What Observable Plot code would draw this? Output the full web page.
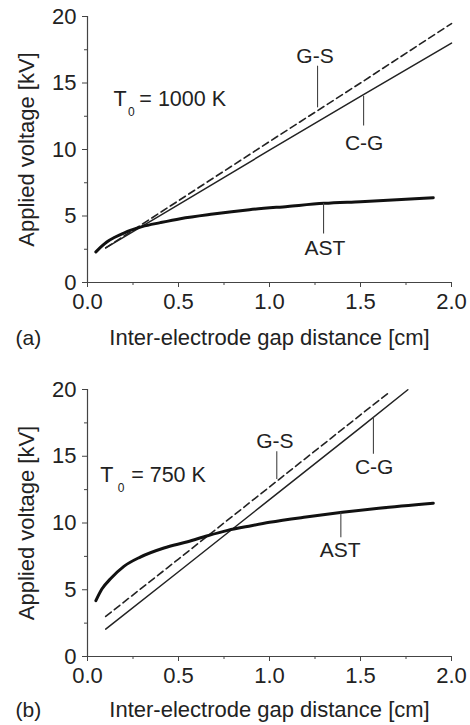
<!DOCTYPE html>
<html>
<head>
<meta charset="utf-8">
<script src="https://cdn.jsdelivr.net/npm/d3@7"></script>
<script src="https://cdn.jsdelivr.net/npm/@observablehq/plot@0.6"></script>
<style>
  body { margin: 0; background: #fff; }
  #chart svg { display: block; }
</style>
</head>
<body>
<div id="chart"></div>
<script>
// ---- axes ----
const xTicks = [0, 0.5, 1, 1.5, 2];
const xTickLabels = ["0.0", "0.5", "1.0", "1.5", "2.0"];
const xMinorTicks = [0.25, 0.75, 1.25, 1.75];
const yTicks = [0, 5, 10, 15, 20];
const yMinorTicks = [2.5, 7.5, 12.5, 17.5];
const xLabel = "Inter-electrode gap distance [cm]";
const yLabel = "Applied voltage [kV]";

// ---- panel (a): T0 = 1000 K ----
const aTag = "(a)";
const aTemp = ["T", "0", "= 1000 K"];
const aGapAST = [0.046, 0.08, 0.106, 0.15, 0.2, 0.235, 0.3, 0.4, 0.51, 0.69, 0.89, 1.1, 1.3, 1.5, 1.7, 1.9];
const aVoltAST = [2.3, 2.75, 3.05, 3.4, 3.72, 3.92, 4.2, 4.5, 4.8, 5.15, 5.47, 5.72, 5.95, 6.08, 6.22, 6.37];
const aGapGS = [0.1, 0.5, 1.0, 1.5, 2.0];
const aVoltGS = [2.6, 6.15, 10.6, 15.0, 19.47];
const aGapCG = [0.1, 0.5, 1.0, 1.5, 2.0];
const aVoltCG = [2.6, 5.85, 9.95, 14.0, 18.0];
const aLabelNames = ["G-S", "C-G", "AST"];
const aLabelX = [1.25, 1.52, 1.305];
const aLabelY = [16.54, 9.93, 2.05];
const aLeaderX = [1.264, 1.517, 1.297];
const aLeaderTop = [16.3, 14.05, 5.97];
const aLeaderBottom = [13.17, 11.8, 3.68];
const aTempX = [0.143, 0.222, 0.285];
const aTempY = [13.3, 12.5, 13.3];

// ---- panel (b): T0 = 750 K ----
const bTag = "(b)";
const bTemp = ["T", "0", "= 750 K"];
const bGapAST = [0.046, 0.079, 0.125, 0.2, 0.29, 0.42, 0.55, 0.66, 0.77, 0.9, 1.0, 1.2, 1.4, 1.6, 1.9];
const bVoltAST = [4.18, 5.05, 5.8, 6.75, 7.45, 8.13, 8.6, 9.05, 9.45, 9.8, 10.05, 10.45, 10.8, 11.1, 11.48];
const bGapGS = [0.1, 0.5, 1.0, 1.5, 1.65];
const bVoltGS = [3.0, 7.3, 12.7, 18.1, 19.7];
const bGapCG = [0.1, 0.5, 1.0, 1.5, 1.76];
const bVoltCG = [2.05, 6.35, 11.75, 17.15, 19.98];
const bLabelNames = ["G-S", "C-G", "AST"];
const bLabelX = [1.03, 1.575, 1.388];
const bLabelY = [15.63, 13.68, 7.43];
const bLeaderX = [1.04, 1.571, 1.392];
const bLeaderTop = [15.38, 17.93, 10.8];
const bLeaderBottom = [13.3, 15.18, 8.93];
const bTempX = [0.07, 0.166, 0.24];
const bTempY = [13.1, 12.3, 13.1];

const INK = "#222";
const FONT = "'Liberation Sans', Arial, Helvetica, sans-serif";

const pts = (xs, ys) => xs.map((x, i) => ({x, y: ys[i]}));

function panel(p) {
  const labels = p.names.map((name, i) => ({name, x: p.labelX[i], y: p.labelY[i]}));
  const leaders = p.leaderX.map((x, i) => ({x, y1: p.leaderTop[i], y2: p.leaderBottom[i]}));
  const temp = p.temp.map((t, i) => ({t, x: p.tempX[i], y: p.tempY[i]}));
  return Plot.plot({
    width: 470,
    height: p.height,
    marginLeft: 87,
    marginRight: 19,
    marginTop: p.marginTop,
    marginBottom: p.marginBottom,
    x: {domain: [0, 2]},
    y: {domain: [0, 20]},
    style: {fontFamily: FONT, fontSize: "21px", color: INK, background: "#fff", overflow: "visible"},
    marks: [
      Plot.axisY(yTicks, {tickSize: 5, tickPadding: 6, fontSize: 22, stroke: "#444",
        label: yLabel, labelAnchor: "center", labelArrow: "none", labelOffset: 69}),
      Plot.axisY(yMinorTicks, {tickSize: 3, stroke: "#444", tickFormat: () => "", label: null}),
      Plot.axisX(xTicks, {tickSize: 5, tickPadding: 6, fontSize: 22, stroke: "#444",
        tickFormat: d => xTickLabels[xTicks.indexOf(d)],
        label: xLabel, labelAnchor: "center", labelArrow: "none", labelOffset: p.labelOffset}),
      Plot.axisX(xMinorTicks, {tickSize: 3, stroke: "#444", tickFormat: () => "", label: null}),
      Plot.ruleX([0], {stroke: "#444", strokeWidth: 1.2}),
      Plot.ruleY([0], {stroke: "#444", strokeWidth: 1.2}),
      Plot.line(pts(p.gapGS, p.voltGS), {x: "x", y: "y", stroke: INK, strokeWidth: 1.6, strokeDasharray: "7,4"}),
      Plot.line(pts(p.gapCG, p.voltCG), {x: "x", y: "y", stroke: INK, strokeWidth: 1.5}),
      Plot.line(pts(p.gapAST, p.voltAST), {x: "x", y: "y", stroke: "#111", strokeWidth: 3, curve: "monotone-x"}),
      Plot.link(leaders, {x1: "x", x2: "x", y1: "y1", y2: "y2", stroke: "#444", strokeWidth: 1.1}),
      Plot.text(labels, {x: "x", y: "y", text: "name", textAnchor: "middle", lineAnchor: "bottom", fontSize: 21, fill: INK}),
      Plot.text([temp[0], temp[2]], {x: "x", y: "y", text: "t", textAnchor: "start", lineAnchor: "bottom", fontSize: 21.5, fill: INK}),
      Plot.text([temp[1]], {x: "x", y: "y", text: "t", textAnchor: "start", lineAnchor: "bottom", fontSize: 12, fill: INK}),
      Plot.text([p.tag], {frameAnchor: "bottom-left", dx: -72, dy: p.labelOffset, textAnchor: "start", lineAnchor: "bottom", fontSize: 21, fill: INK})
    ]
  });
}

const chart = document.getElementById("chart");
chart.append(panel({
  height: 360, marginTop: 16, marginBottom: 78, labelOffset: 62,
  tag: aTag, temp: aTemp, tempX: aTempX, tempY: aTempY,
  gapAST: aGapAST, voltAST: aVoltAST, gapGS: aGapGS, voltGS: aVoltGS, gapCG: aGapCG, voltCG: aVoltCG,
  names: aLabelNames, labelX: aLabelX, labelY: aLabelY,
  leaderX: aLeaderX, leaderTop: aLeaderTop, leaderBottom: aLeaderBottom
}));
chart.append(panel({
  height: 365, marginTop: 29, marginBottom: 69, labelOffset: 60,
  tag: bTag, temp: bTemp, tempX: bTempX, tempY: bTempY,
  gapAST: bGapAST, voltAST: bVoltAST, gapGS: bGapGS, voltGS: bVoltGS, gapCG: bGapCG, voltCG: bVoltCG,
  names: bLabelNames, labelX: bLabelX, labelY: bLabelY,
  leaderX: bLeaderX, leaderTop: bLeaderTop, leaderBottom: bLeaderBottom
}));
</script>
</body>
</html>
